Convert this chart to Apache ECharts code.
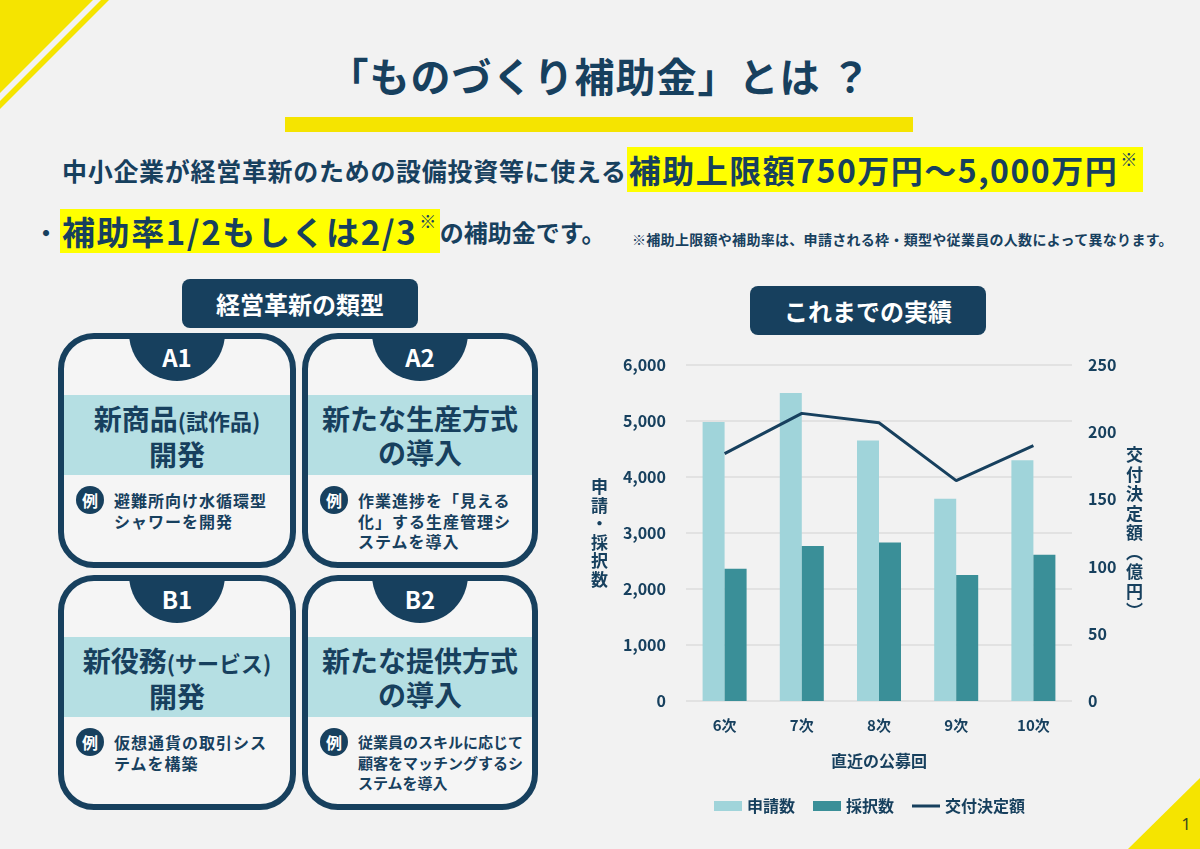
<!DOCTYPE html>
<html lang="ja">
<head>
<meta charset="utf-8">
<title>ものづくり補助金とは</title>
<script src="https://cdn.jsdelivr.net/npm/echarts@6.0.0/dist/echarts.min.js"></script>
<style>
html,body{margin:0;padding:0;}
body{width:1200px;height:849px;overflow:hidden;position:relative;background:#f2f2f2;
  font-family:"Noto Sans CJK JP","Noto Sans",sans-serif;color:#17405e;font-weight:bold;}
.abs{position:absolute;}
.title{left:0;top:47px;width:1200px;text-align:center;font-size:40px;line-height:56px;letter-spacing:1px;}
.title-bar{left:285px;top:117px;width:628px;height:15px;background:#f5e400;}
.lead{display:flex;align-items:center;white-space:nowrap;}
.hl{background:#ffff00;display:inline-block;}
.hl sup{font-size:17px;vertical-align:top;line-height:24px;margin-left:2px;}
.note{left:632px;top:229px;font-size:14px;line-height:20px;letter-spacing:0.3px;white-space:nowrap;}
.pill{background:#17405e;color:#fff;border-radius:8px;text-align:center;font-size:24px;}
.card{border:6px solid #17405e;border-radius:36px;background:#f5f5f5;overflow:hidden;box-sizing:border-box;}
.tab{position:absolute;left:50%;margin-left:-48px;top:-6px;width:96px;height:48px;border-radius:0 0 48px 48px;
  background:#17405e;color:#fff;font-size:24px;line-height:48px;text-align:center;}
.band{position:absolute;left:0;right:0;top:56px;height:80px;background:#b5dfe3;text-align:center;
  font-size:28px;line-height:34px;padding-top:6px;box-sizing:border-box;white-space:nowrap;}
.band .sm{font-size:22px;}
.rei{position:absolute;left:12px;top:147px;width:28px;height:28px;border-radius:50%;background:#17405e;
  color:#fff;font-size:16px;line-height:28px;text-align:center;}
.desc{position:absolute;left:50px;top:151px;font-size:16px;line-height:20.5px;letter-spacing:1px;white-space:nowrap;}
#chart{position:absolute;left:0;top:0;width:1200px;height:849px;z-index:5;}
</style>
</head>
<body>
<svg class="abs" style="left:0;top:0" width="1200" height="849">
  <polygon points="0,0 93,0 0,93" fill="#f5e400"/>
  <polygon points="101,0 109,0 0,109 0,101" fill="#f5e400"/>
  <polygon points="1200,778 1200,849 1128,849" fill="#f5e400"/>
  <text x="1186" y="830" font-size="17" font-weight="normal" fill="#3b4a1e" text-anchor="middle" font-family="Noto Sans">1</text>
</svg>

<div class="abs title">「ものづくり補助金」とは ？</div>
<div class="abs title-bar"></div>

<div class="abs lead" style="left:62px;top:147px;height:45px;">
  <span style="font-size:25px;letter-spacing:0.7px;">中小企業が経営革新のための設備投資等に使える</span>
  <span class="hl" style="font-size:32px;line-height:45px;letter-spacing:1.5px;padding:0 4px 0 2px;">補助上限額750万円〜5,000万円<sup>※</sup></span>
</div>
<div class="abs lead" style="left:34px;top:209px;height:44px;">
  <span style="font-size:24px;">・</span>
  <span class="hl" style="font-size:33px;line-height:44px;letter-spacing:1.6px;padding:0 2px 0 2px;margin-left:2px;">補助率1/2もしくは2/3<sup>※</sup></span>
  <span style="font-size:24px;">の補助金です。</span>
</div>
<div class="abs note">※補助上限額や補助率は、申請される枠・類型や従業員の人数によって異なります。</div>

<div class="abs pill" style="left:182px;top:279px;width:236px;height:49px;line-height:49px;">経営革新の類型</div>
<div class="abs pill" style="left:750px;top:286px;width:236px;height:49px;line-height:49px;">これまでの実績</div>

<div class="abs card" style="left:58px;top:333px;width:238px;height:235px;">
  <div class="tab">A1</div>
  <div class="band">新商品<span class="sm">(試作品)</span><br>開発</div>
  <div class="rei">例</div>
  <div class="desc">避難所向け水循環型<br>シャワーを開発</div>
</div>
<div class="abs card" style="left:302px;top:333px;width:236px;height:235px;">
  <div class="tab">A2</div>
  <div class="band">新たな生産方式<br>の導入</div>
  <div class="rei">例</div>
  <div class="desc">作業進捗を「見える<br>化」する生産管理シ<br>ステムを導入</div>
</div>
<div class="abs card" style="left:58px;top:575px;width:238px;height:235px;">
  <div class="tab">B1</div>
  <div class="band">新役務<span class="sm">(サービス)</span><br>開発</div>
  <div class="rei">例</div>
  <div class="desc">仮想通貨の取引シス<br>テムを構築</div>
</div>
<div class="abs card" style="left:302px;top:575px;width:236px;height:235px;">
  <div class="tab">B2</div>
  <div class="band">新たな提供方式<br>の導入</div>
  <div class="rei">例</div>
  <div class="desc" style="font-size:15px;letter-spacing:0;">従業員のスキルに応じて<br>顧客をマッチングするシ<br>ステムを導入</div>
</div>

<div id="chart"></div>
<script>
// 公募回
var rounds = ['6次', '7次', '8次', '9次', '10次'];
// 申請数・採択数（件）
var applications = [4980, 5500, 4650, 3610, 4300];
var adoptions = [2360, 2770, 2830, 2250, 2610];
// 交付決定額（億円）
var grantAmounts = [184, 214, 207, 164, 190];

var navy = '#17405e';
var font = '"Noto Sans CJK JP", "Noto Sans", sans-serif';

var chartDom = document.getElementById('chart');
var myChart = echarts.init(chartDom, null, {renderer: 'canvas'});

var option = {
    backgroundColor: 'transparent',
    animation: false,
    textStyle: {fontFamily: font},
    grid: {left: 686, top: 365, width: 386, height: 336},
    legend: {
        left: 714,
        top: 798,
        padding: 0,
        itemWidth: 28,
        itemHeight: 10,
        itemGap: 18,
        textStyle: {fontSize: 16, fontWeight: 'bold', color: navy, fontFamily: font},
        data: [
            {name: '申請数', icon: 'rect'},
            {name: '採択数', icon: 'rect'},
            {name: '交付決定額', icon: 'path://M0,0H28V3H0Z'}
        ]
    },
    xAxis: {
        type: 'category',
        data: rounds,
        axisLine: {show: false},
        axisTick: {show: false},
        axisLabel: {margin: 17, fontSize: 15, fontWeight: 'bold', color: navy, fontFamily: font},
        name: '直近の公募回',
        nameLocation: 'middle',
        nameGap: 52,
        nameTextStyle: {fontSize: 16, fontWeight: 'bold', color: navy, fontFamily: font}
    },
    yAxis: [
        {
            type: 'value',
            min: 0,
            max: 6000,
            interval: 1000,
            axisLine: {show: false},
            axisTick: {show: false},
            splitLine: {lineStyle: {color: '#dcdcdc', width: 1.5}},
            axisLabel: {margin: 20, fontSize: 16, fontWeight: 'bold', color: navy, fontFamily: font},
            name: '申\n請\n・\n採\n択\n数',
            nameLocation: 'middle',
            nameRotate: 0,
            nameGap: 78,
            nameTextStyle: {fontSize: 17, lineHeight: 18.5, fontWeight: 'bold', color: navy, fontFamily: font}
        },
        {
            type: 'value',
            min: 0,
            max: 250,
            interval: 50,
            axisLine: {show: false},
            axisTick: {show: false},
            splitLine: {show: false},
            axisLabel: {margin: 16, fontSize: 16, fontWeight: 'bold', color: navy, fontFamily: font},
            name: '交\n付\n決\n定\n額\n︵\n億\n円\n︶',
            nameLocation: 'middle',
            nameRotate: 0,
            nameGap: 54,
            nameTextStyle: {fontSize: 17, lineHeight: 19.5, fontWeight: 'bold', color: navy, fontFamily: font}
        }
    ],
    series: [
        {
            name: '申請数',
            type: 'bar',
            data: applications,
            barGap: '0%',
            barCategoryGap: '43%',
            itemStyle: {color: '#a0d4da'}
        },
        {
            name: '採択数',
            type: 'bar',
            data: adoptions,
            itemStyle: {color: '#3a8f98'}
        },
        {
            name: '交付決定額',
            type: 'line',
            yAxisIndex: 1,
            data: grantAmounts,
            symbol: 'none',
            lineStyle: {color: navy, width: 3},
            itemStyle: {color: navy}
        }
    ]
};

myChart.setOption(option);
</script>
</body>
</html>
